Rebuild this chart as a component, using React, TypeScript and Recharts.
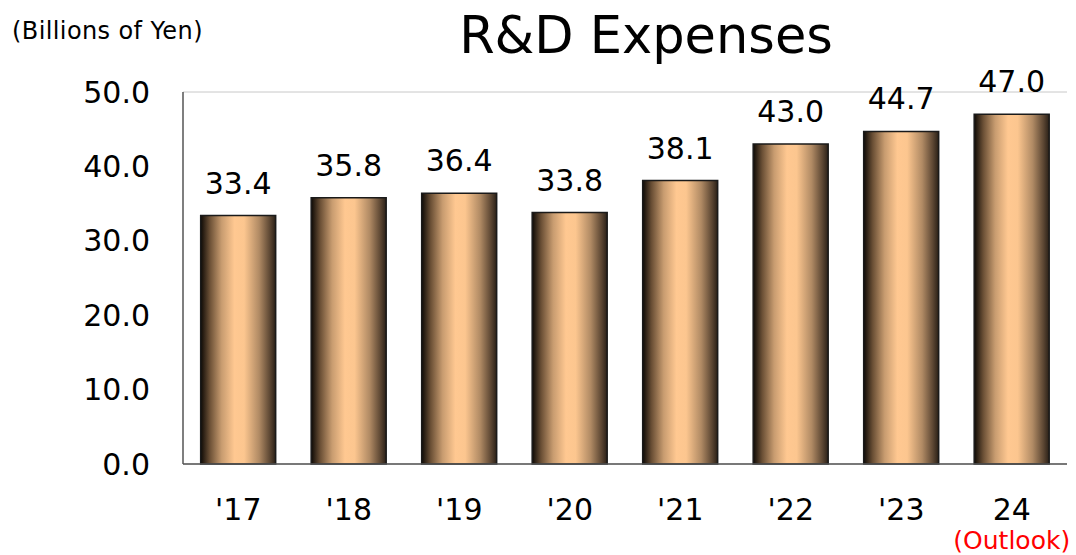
import { Bar, BarChart, CartesianGrid, LabelList, XAxis, YAxis } from "recharts";

const years = ["2017", "2018", "2019", "2020", "2021", "2022", "2023", "2024"];
const tickLabels = ["'17", "'18", "'19", "'20", "'21", "'22", "'23", "24"];
const expenses = [33.4, 35.8, 36.4, 33.8, 38.1, 43.0, 44.7, 47.0];
const yTicks = [0, 10, 20, 30, 40, 50];

const data = years.map((year, i) => ({
  year,
  label: tickLabels[i],
  value: expenses[i],
}));

const FONT = "'DejaVu Sans', Verdana, sans-serif";

function YearTick({ x, y, payload, index }: any) {
  const isOutlook = index === data.length - 1;
  return (
    <g transform={`translate(${x},${y})`}>
      <text
        x={0}
        y={0}
        dy={48}
        textAnchor="middle"
        fill="#000"
        fontSize={30}
        fontFamily={FONT}
      >
        {data[index]?.label ?? payload.value}
      </text>
      {isOutlook && (
        <text
          x={0}
          y={0}
          dy={77}
          textAnchor="middle"
          fill="#ff0000"
          fontSize={25}
          fontFamily={FONT}
        >
          (Outlook)
        </text>
      )}
    </g>
  );
}

export default function App() {
  return (
    <div
      style={{
        position: "absolute",
        left: 0,
        top: 0,
        width: 1076,
        height: 555,
        background: "#fff",
        fontFamily: FONT,
      }}
    >
      <div
        style={{
          position: "absolute",
          left: 12,
          top: 17,
          fontSize: 24,
          letterSpacing: 0.4,
          color: "#000",
          whiteSpace: "nowrap",
        }}
      >
        (Billions of Yen)
      </div>
      <div
        style={{
          position: "absolute",
          left: 0,
          width: 1292,
          top: 6,
          textAlign: "center",
          fontSize: 51,
          color: "#000",
        }}
      >
        R&amp;D Expenses
      </div>
      <BarChart
        width={1076}
        height={555}
        data={data}
        margin={{ top: 92, right: 9, left: 0, bottom: 61 }}
        barCategoryGap="16%"
      >
        <defs>
          <linearGradient id="barGrad" x1="0" y1="0" x2="1" y2="0">
            <stop offset="0%" stopColor="#0d0905" />
            <stop offset="12%" stopColor="#6a4f35" />
            <stop offset="28%" stopColor="#c89c70" />
            <stop offset="45%" stopColor="#ffc891" />
            <stop offset="58%" stopColor="#fcc68f" />
            <stop offset="78%" stopColor="#b08a64" />
            <stop offset="92%" stopColor="#5e4834" />
            <stop offset="100%" stopColor="#2a2017" />
          </linearGradient>
        </defs>
        <CartesianGrid vertical={false} stroke="#c8c8c8" />
        <XAxis
          dataKey="year"
          tick={<YearTick />}
          tickLine={false}
          axisLine={{ stroke: "#555", strokeWidth: 1.5 }}
          interval={0}
        />
        <YAxis
          yAxisId="left"
          domain={[0, 50]}
          ticks={yTicks}
          width={183}
          tickLine={false}
          axisLine={{ stroke: "#555", strokeWidth: 1.5 }}
          tickFormatter={(v: number) => v.toFixed(1)}
          tick={{ fill: "#000", fontSize: 30, fontFamily: FONT, dx: -25 }}
        />
        <YAxis
          yAxisId="right"
          orientation="right"
          domain={[0, 50]}
          width={0}
          tick={false}
          tickLine={false}
          axisLine={{ stroke: "#c8c8c8" }}
        />
        <Bar
          yAxisId="left"
          dataKey="value"
          fill="url(#barGrad)"
          stroke="#1a1a1a"
          strokeWidth={1.5}
          isAnimationActive={false}
        >
          <LabelList
            dataKey="value"
            position="top"
            offset={22}
            formatter={(v: any) => Number(v).toFixed(1)}
            style={{ fill: "#000", fontSize: 30, fontFamily: FONT }}
          />
        </Bar>
      </BarChart>
    </div>
  );
}
